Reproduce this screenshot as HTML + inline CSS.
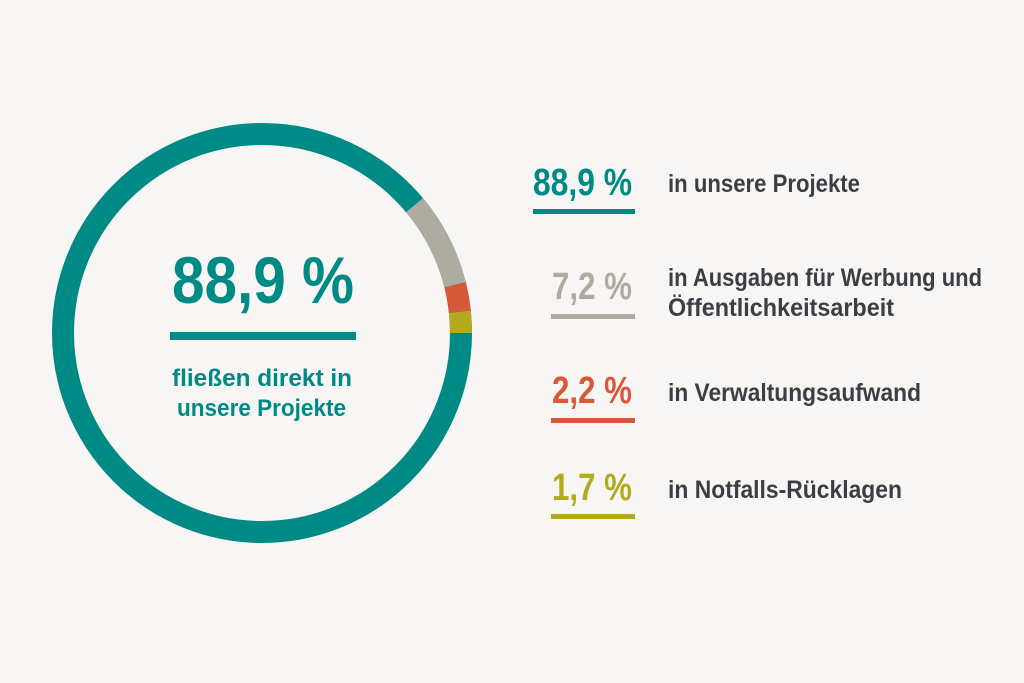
<!DOCTYPE html>
<html><head><meta charset="utf-8"><style>
html,body{margin:0;padding:0;background:#f7f6f4;}
svg{display:block}
text{font-family:"Liberation Sans Narrow","Liberation Sans",sans-serif;font-weight:bold}
</style></head><body>
<svg width="1024" height="683" viewBox="0 0 1024 683">
<rect width="1024" height="683" fill="#f7f6f4"/>
<g transform="translate(262,333) scale(1,-1)" fill="none" stroke-width="22">
<circle r="199" stroke="#008a85" stroke-dasharray="1250.4 0"/>
<circle r="199" stroke="#b4aa1e" stroke-dasharray="21.3 1300"/>
<circle r="199" stroke="#d8593a" stroke-dasharray="0 21.3 27.5 1300"/>
<circle r="199" stroke="#aeaca0" stroke-dasharray="0 48.8 90 1300"/>
</g>
<text x="172" y="303" font-size="66" fill="#008a85" textLength="182" lengthAdjust="spacingAndGlyphs">88,9 %</text>
<rect x="170" y="332" width="186" height="8" fill="#008a85"/>
<text x="172" y="386" font-size="24" fill="#008a85" textLength="180" lengthAdjust="spacingAndGlyphs">fließen direkt in</text>
<text x="177" y="416" font-size="24" fill="#008a85" textLength="169" lengthAdjust="spacingAndGlyphs">unsere Projekte</text>

<g font-size="38" lengthAdjust="spacingAndGlyphs">
<text x="533" y="195" fill="#008a85" textLength="99" lengthAdjust="spacingAndGlyphs">88,9 %</text>
<text x="552" y="299" fill="#aeaca0" textLength="80" lengthAdjust="spacingAndGlyphs">7,2 %</text>
<text x="552" y="403" fill="#d8593a" textLength="80" lengthAdjust="spacingAndGlyphs">2,2 %</text>
<text x="552" y="500" fill="#b4aa1e" textLength="80" lengthAdjust="spacingAndGlyphs">1,7 %</text>
</g>
<rect x="533" y="209" width="102" height="5" fill="#008a85"/>
<rect x="551" y="314" width="84" height="5" fill="#aeaca0"/>
<rect x="551" y="418" width="84" height="5" fill="#d8593a"/>
<rect x="551" y="514" width="84" height="5" fill="#b4aa1e"/>
<g font-size="25" fill="#3d3d45">
<text x="668" y="192" textLength="192" lengthAdjust="spacingAndGlyphs">in unsere Projekte</text>
<text x="668" y="286" textLength="314" lengthAdjust="spacingAndGlyphs">in Ausgaben für Werbung und</text>
<text x="668" y="316" textLength="226" lengthAdjust="spacingAndGlyphs">Öffentlichkeitsarbeit</text>
<text x="668" y="401" textLength="253" lengthAdjust="spacingAndGlyphs">in Verwaltungsaufwand</text>
<text x="668" y="498" textLength="234" lengthAdjust="spacingAndGlyphs">in Notfalls-Rücklagen</text>
</g>
</svg>
</body></html>
